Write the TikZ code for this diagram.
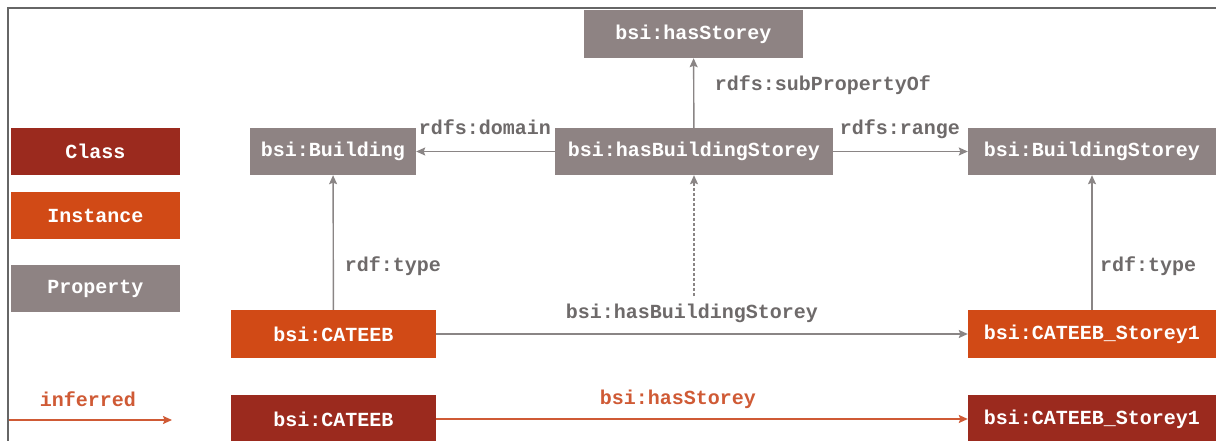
\documentclass[tikz,border=0pt]{standalone}
\usepackage{fontspec}
\setmonofont{Liberation Mono}
\usepackage{tikz}
\usetikzlibrary{arrows.meta}

\definecolor{classred}{HTML}{9B2A1E}
\definecolor{instorange}{HTML}{D14A16}
\definecolor{propgray}{HTML}{8E8383}
\definecolor{labelgray}{HTML}{6E6A6A}
\definecolor{linegray}{HTML}{8A8585}
\definecolor{infcolor}{HTML}{CF5A35}

\tikzset{
  box/.style = {minimum height=47pt, inner sep=0pt, text=white,
    font=\ttfamily\bfseries\fontsize{20}{24}\selectfont},
  cls/.style = {box, fill=classred},
  inst/.style = {box, fill=instorange},
  prop/.style = {box, fill=propgray},
  lbl/.style = {text=labelgray, inner sep=0pt,
    font=\ttfamily\bfseries\fontsize{20}{24}\selectfont},
  rel/.style = {draw=linegray, line width=1.4pt, -{Stealth[length=9pt,width=8pt,inset=1.5pt]}},
  infrel/.style = {rel, draw=infcolor}
}

\begin{document}
\begin{tikzpicture}[x=1pt, y=-1pt]
  \useasboundingbox (0,0) rectangle (1216,441);
  \draw[draw=gray!80!black, line width=1.6pt] (8,441) -- (8,8) -- (1216,8);

  % legend
  \node[cls, minimum width=169pt] (leg1) at (95.5,151.5) {Class};
  \node[inst, minimum width=169pt] (leg2) at (95.5,215.5) {Instance};
  \node[prop, minimum width=169pt] (leg3) at (95.5,288.5) {Property};
  \node[lbl, text=infcolor] (legi) at (88,399) {inferred};
  \coordinate (i0) at (9,420);
  \coordinate (i1) at (172,420);
  \draw[infrel] (i0) -- (i1);

  % schema
  \node[prop, minimum width=219pt, minimum height=48pt] (hs) at (693.5,34) {bsi:hasStorey};
  \node[prop, minimum width=166pt] (b) at (333,151.5) {bsi:Building};
  \node[prop, minimum width=278pt] (hbs) at (694,151.5) {bsi:hasBuildingStorey};
  \node[prop, minimum width=248pt] (bs) at (1092,151.5) {bsi:BuildingStorey};

  % instances
  \node[inst, minimum width=205pt, minimum height=48pt] (c) at (333.5,334) {bsi:CATEEB};
  \node[inst, minimum width=248pt, minimum height=48pt] (s) at (1092,334) {bsi:CATEEB\_Storey1};
  \node[cls, minimum width=205pt, minimum height=48pt] (c2) at (333.5,419) {bsi:CATEEB};
  \node[cls, minimum width=248pt, minimum height=48pt] (s2) at (1092,419) {bsi:CATEEB\_Storey1};

  \draw[rel] (hbs) -- (hs);
  \draw[rel] (hbs) -- (b);
  \draw[rel] (hbs) -- (bs);
  \draw[rel] (c) -- (b);
  \draw[rel] (s) -- (bs);
  \draw[rel] (c) -- (s);
  \coordinate (d0) at (694,296);
  \draw[rel, line width=1.1pt, densely dashed] (d0) -- (hbs);
  \draw[infrel] (c2) -- (s2);

  \node[lbl] (l1) at (823,85) {rdfs:subPropertyOf};
  \node[lbl] (l2) at (485,127) {rdfs:domain};
  \node[lbl] (l3) at (900,129) {rdfs:range};
  \node[lbl] (l4) at (393,266) {rdf:type};
  \node[lbl] (l5) at (1148,266) {rdf:type};
  \node[lbl] (l6) at (692,313) {bsi:hasBuildingStorey};
  \node[lbl, text=infcolor] (l7) at (678,399) {bsi:hasStorey};
\end{tikzpicture}
\end{document}
